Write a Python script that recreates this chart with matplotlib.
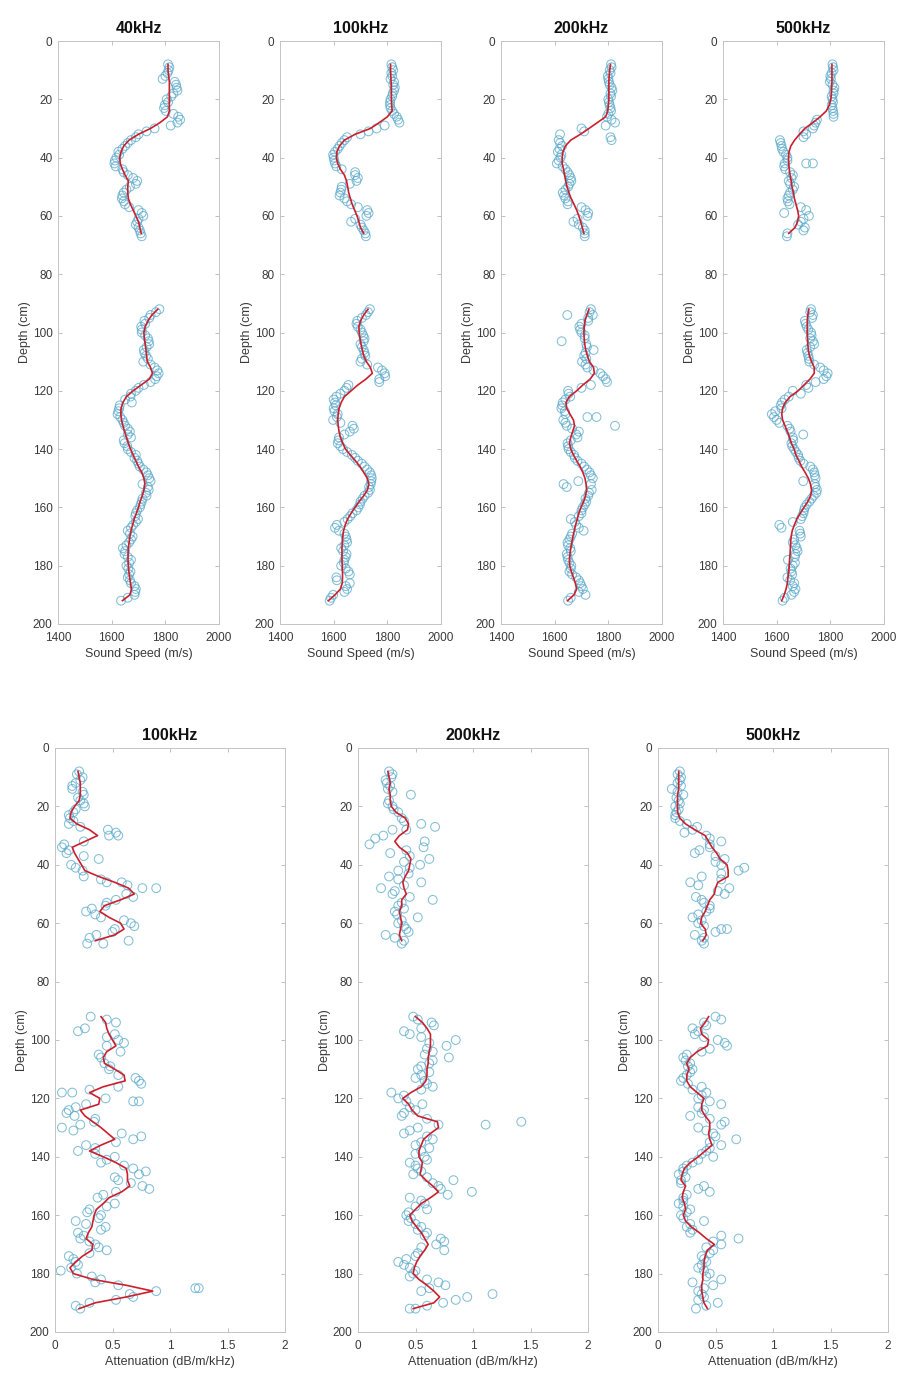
import matplotlib
matplotlib.use("Agg")
import matplotlib.pyplot as plt

plt.rcParams['font.family'] = ['Liberation Sans', 'DejaVu Sans']

# ---------------- depth grids (cm) ----------------
depth_upper = list(range(8, 67, 2))     # 30 samples
depth_lower = list(range(92, 193, 2))   # 51 samples

# ---------------- Sound speed (m/s) ----------------
ss_titles = ['40kHz', '100kHz', '200kHz', '500kHz']

ss40_line_u = [1810, 1810, 1812, 1815, 1815, 1815, 1815, 1815, 1815, 1808, 1780, 1745, 1700, 1665, 1645,
               1635, 1630, 1632, 1640, 1650, 1662, 1660, 1660, 1662, 1670, 1680, 1690, 1700, 1705, 1710]
ss40_pts_u = [1810, 1812, 1800, 1835, 1842, 1830, 1805, 1798, 1802, 1848, 1845, 1760, 1700, 1672, 1650,
              1625, 1618, 1610, 1640, 1660, 1695, 1668, 1645, 1638, 1650, 1700, 1718, 1695, 1700, 1708]
ss40_line_l = [1772, 1750, 1735, 1725, 1720, 1722, 1725, 1728, 1730, 1733, 1745, 1752, 1740, 1710, 1680,
               1655, 1642, 1635, 1634, 1637, 1642, 1648, 1655, 1662, 1670, 1680, 1690, 1700, 1712, 1720,
               1724, 1720, 1714, 1706, 1700, 1692, 1684, 1678, 1672, 1668, 1665, 1662, 1661, 1661, 1662,
               1664, 1667, 1670, 1674, 1668, 1640]
ss40_pts_l = [1778, 1745, 1722, 1710, 1712, 1735, 1740, 1720, 1728, 1718, 1760, 1775, 1762, 1720, 1690,
              1670, 1675, 1628, 1622, 1640, 1650, 1668, 1672, 1648, 1660, 1690, 1695, 1705, 1730, 1740,
              1715, 1738, 1730, 1712, 1705, 1690, 1698, 1680, 1660, 1678, 1665, 1642, 1648, 1672, 1655,
              1670, 1660, 1672, 1690, 1685, 1635]
ss40_extra_d = [13, 15, 17, 23, 27, 29, 33, 35, 41, 43, 53, 55, 61, 63, 113, 115, 125, 137, 151, 153, 175, 187,
                9, 11, 19, 21, 25, 31, 37, 39, 45, 47, 49, 51, 57, 59, 65, 67,
                93, 95, 97, 99, 101, 103, 105, 107, 109, 111, 117, 119, 121, 123, 127, 129, 131, 133, 135,
                139, 141, 143, 145, 147, 149, 155, 157, 159, 161, 163, 165, 167, 169, 171, 173, 177, 179,
                181, 183, 185, 189, 191]
ss40_extra_v = [1790, 1840, 1845, 1795, 1855, 1820, 1690, 1660, 1612, 1615, 1640, 1645, 1700, 1690,
                1770, 1768, 1630, 1645, 1745, 1735, 1650, 1685,
                1815, 1808, 1822, 1810, 1830, 1730, 1640, 1628, 1645, 1680, 1690, 1655, 1665, 1712, 1705, 1712,
                1765, 1740, 1725, 1712, 1725, 1738, 1730, 1722, 1735, 1745, 1745, 1700, 1672, 1650, 1625,
                1632, 1645, 1660, 1660, 1658, 1672, 1685, 1700, 1718, 1735, 1728, 1715, 1708, 1695, 1688,
                1690, 1672, 1668, 1672, 1655, 1660, 1665, 1662, 1665, 1668, 1688, 1660]

ss100_line_u = [1812, 1812, 1813, 1814, 1815, 1815, 1815, 1816, 1818, 1800, 1770, 1737, 1680, 1640, 1622,
                1612, 1610, 1615, 1625, 1640, 1648, 1652, 1656, 1662, 1669, 1678, 1687, 1694, 1700, 1712]
ss100_pts_u = [1815, 1822, 1818, 1825, 1828, 1820, 1812, 1810, 1818, 1835, 1845, 1760, 1700, 1640, 1622,
               1605, 1600, 1605, 1630, 1680, 1685, 1630, 1625, 1640, 1665, 1725, 1722, 1665, 1705, 1718]
ss100_line_l = [1728, 1712, 1700, 1694, 1695, 1698, 1702, 1707, 1712, 1722, 1737, 1744, 1720, 1690, 1665,
                1640, 1628, 1620, 1617, 1615, 1617, 1620, 1625, 1634, 1644, 1662, 1681, 1698, 1712, 1725,
                1731, 1726, 1712, 1695, 1680, 1665, 1652, 1643, 1637, 1634, 1632, 1631, 1631, 1631, 1632,
                1633, 1633, 1632, 1625, 1605, 1580]
ss100_pts_l = [1735, 1720, 1688, 1690, 1705, 1715, 1700, 1712, 1718, 1700, 1765, 1790, 1770, 1655, 1640,
               1610, 1605, 1600, 1615, 1598, 1670, 1660, 1620, 1615, 1635, 1668, 1690, 1715, 1735, 1742,
               1738, 1735, 1715, 1700, 1692, 1670, 1652, 1612, 1620, 1645, 1650, 1628, 1648, 1640, 1628,
               1655, 1610, 1660, 1650, 1598, 1585]
ss100_extra_d = [27, 29, 31, 39, 45, 47, 53, 59, 113, 115, 117, 123, 133, 167, 185,
                 9, 11, 13, 15, 17, 19, 21, 23, 25, 33, 35, 37, 41, 43, 49, 51, 55, 57, 61, 63, 65, 67,
                 93, 95, 97, 99, 101, 103, 105, 107, 109, 111, 119, 121, 125, 127, 129, 131, 135, 137, 139,
                 141, 143, 145, 147, 149, 151, 153, 155, 157, 159, 161, 163, 165, 169, 171, 173, 175, 177,
                 179, 181, 183, 187, 189, 191]
ss100_extra_v = [1840, 1790, 1730, 1598, 1680, 1690, 1622, 1730, 1780, 1792, 1770, 1600, 1675, 1605, 1612,
                 1818, 1815, 1812, 1822, 1825, 1818, 1810, 1812, 1825, 1650, 1630, 1615, 1602, 1610, 1660,
                 1628, 1650, 1690, 1680, 1700, 1712, 1720,
                 1728, 1705, 1685, 1700, 1710, 1712, 1705, 1715, 1705, 1725, 1648, 1625, 1608, 1603, 1612,
                 1625, 1640, 1618, 1625, 1650, 1680, 1705, 1725, 1740, 1740, 1732, 1728, 1708, 1698, 1685,
                 1662, 1640, 1640, 1648, 1640, 1635, 1645, 1638, 1645, 1660, 1645, 1640, 1590]

ss200_line_u = [1808, 1805, 1803, 1802, 1802, 1802, 1802, 1800, 1798, 1790, 1759, 1728, 1696, 1660, 1640,
                1631, 1628, 1628, 1633, 1637, 1641, 1646, 1653, 1661, 1672, 1682, 1690, 1697, 1703, 1709]
ss200_pts_u = [1810, 1805, 1798, 1802, 1812, 1808, 1800, 1805, 1810, 1795, 1825, 1700, 1620, 1615, 1628,
               1612, 1622, 1608, 1640, 1655, 1662, 1650, 1630, 1640, 1648, 1715, 1722, 1670, 1705, 1712]
ss200_line_l = [1728, 1720, 1713, 1710, 1709, 1710, 1712, 1716, 1722, 1730, 1745, 1748, 1732, 1705, 1682,
                1655, 1642, 1645, 1657, 1670, 1674, 1667, 1660, 1655, 1660, 1670, 1682, 1695, 1705, 1713,
                1717, 1719, 1715, 1708, 1698, 1690, 1684, 1678, 1673, 1668, 1664, 1660, 1657, 1655, 1656,
                1662, 1670, 1677, 1682, 1672, 1648]
ss200_pts_l = [1735, 1742, 1725, 1692, 1700, 1712, 1718, 1745, 1710, 1702, 1722, 1770, 1790, 1735, 1650,
               1658, 1630, 1625, 1640, 1632, 1645, 1690, 1685, 1648, 1652, 1672, 1685, 1710, 1730, 1742,
               1735, 1738, 1725, 1718, 1705, 1700, 1660, 1680, 1708, 1660, 1648, 1658, 1645, 1650, 1662,
               1655, 1680, 1695, 1705, 1715, 1650]
ss200_extra_d = [29, 31, 33, 34, 94, 103, 115, 117, 129, 129, 132, 151, 152, 153,
                 9, 11, 13, 15, 17, 19, 21, 23, 25, 27, 35, 37, 39, 41, 43, 45, 47, 49, 51, 53, 55, 57,
                 59, 61, 63, 65, 67,
                 93, 95, 97, 99, 101, 105, 107, 109, 111, 113, 119, 121, 123, 125, 127, 131, 133, 135,
                 137, 139, 141, 143, 145, 147, 149, 155, 157, 159, 161, 163, 165, 167, 169, 171, 173, 175,
                 177, 179, 181, 183, 185, 187, 189, 191]
ss200_extra_v = [1790, 1710, 1808, 1812, 1647, 1626, 1780, 1795, 1722, 1756, 1825, 1688, 1633, 1645,
                 1812, 1808, 1800, 1805, 1815, 1810, 1802, 1808, 1800, 1812, 1620, 1618, 1625, 1615, 1630,
                 1648, 1660, 1655, 1640, 1635, 1650, 1700, 1725, 1685, 1690, 1712, 1712,
                 1730, 1725, 1700, 1695, 1712, 1720, 1715, 1718, 1715, 1745, 1700, 1652, 1640, 1628, 1638,
                 1640, 1665, 1680, 1660, 1650, 1660, 1675, 1700, 1720, 1735, 1728, 1715, 1712, 1700, 1690,
                 1675, 1690, 1665, 1655, 1650, 1660, 1648, 1655, 1660, 1665, 1690, 1700, 1690, 1660]

ss500_line_u = [1806, 1806, 1806, 1806, 1805, 1804, 1802, 1796, 1785, 1762, 1735, 1705, 1685, 1667, 1653,
                1646, 1644, 1645, 1647, 1650, 1654, 1657, 1662, 1666, 1672, 1678, 1682, 1678, 1668, 1645]
ss500_pts_u = [1808, 1812, 1800, 1798, 1815, 1812, 1808, 1805, 1810, 1812, 1745, 1735, 1710, 1612, 1618,
               1625, 1640, 1630, 1632, 1660, 1645, 1665, 1650, 1640, 1648, 1710, 1720, 1690, 1705, 1640]
ss500_line_l = [1720, 1716, 1714, 1714, 1714, 1715, 1716, 1718, 1722, 1730, 1740, 1740, 1724, 1702, 1680,
                1650, 1632, 1622, 1619, 1622, 1631, 1640, 1648, 1655, 1665, 1672, 1683, 1693, 1706, 1718,
                1726, 1730, 1727, 1716, 1702, 1688, 1675, 1666, 1658, 1654, 1652, 1651, 1650, 1648, 1647,
                1645, 1642, 1640, 1635, 1628, 1619]
ss500_pts_l = [1728, 1735, 1705, 1712, 1728, 1725, 1740, 1712, 1718, 1722, 1762, 1790, 1775, 1710, 1660,
               1645, 1620, 1618, 1582, 1600, 1640, 1652, 1660, 1655, 1665, 1680, 1688, 1725, 1740, 1745,
               1742, 1750, 1738, 1722, 1705, 1700, 1690, 1610, 1685, 1690, 1660, 1675, 1670, 1642, 1660,
               1655, 1640, 1665, 1670, 1655, 1622]
ss500_extra_d = [31, 42, 42, 59, 65, 117, 119, 121, 135, 151, 167,
                 9, 11, 13, 15, 17, 19, 21, 23, 25, 27, 29, 33, 35, 37, 39, 41, 43, 45, 47, 49, 51, 53,
                 55, 57, 61, 63, 67,
                 93, 95, 97, 99, 101, 103, 105, 107, 109, 111, 113, 115, 123, 125, 127, 129, 131, 133,
                 137, 139, 141, 143, 145, 147, 149, 153, 155, 157, 159, 161, 163, 165, 169, 171, 173, 175,
                 177, 179, 181, 183, 185, 187, 189, 191]
ss500_extra_v = [1700, 1710, 1735, 1628, 1700, 1745, 1718, 1690, 1699, 1699, 1618,
                 1810, 1805, 1802, 1808, 1812, 1805, 1810, 1808, 1812, 1750, 1740, 1700, 1615, 1620, 1635,
                 1640, 1628, 1650, 1655, 1650, 1660, 1645, 1642, 1690, 1700, 1680, 1638,
                 1725, 1732, 1708, 1718, 1730, 1735, 1725, 1715, 1720, 1740, 1775, 1785, 1630, 1615, 1595,
                 1590, 1610, 1648, 1662, 1658, 1672, 1682, 1700, 1735, 1742, 1745, 1748, 1730, 1712, 1702,
                 1695, 1660, 1688, 1665, 1670, 1678, 1668, 1668, 1652, 1658, 1650, 1660, 1665, 1630]

# ---------------- Attenuation (dB/m/kHz) ----------------
at_titles = ['100kHz', '200kHz', '500kHz']

at100_line_u = [0.20, 0.21, 0.22, 0.22, 0.22, 0.21, 0.17, 0.14, 0.13, 0.19, 0.30, 0.37, 0.26, 0.15, 0.17,
                0.20, 0.23, 0.26, 0.38, 0.52, 0.64, 0.69, 0.57, 0.43, 0.39, 0.47, 0.57, 0.60, 0.52, 0.35]
at100_pts_u = [0.21, 0.24, 0.18, 0.15, 0.25, 0.22, 0.26, 0.16, 0.13, 0.12, 0.46, 0.55, 0.25, 0.06, 0.10,
               0.38, 0.14, 0.24, 0.25, 0.45, 0.76, 0.62, 0.53, 0.44, 0.27, 0.40, 0.66, 0.52, 0.36, 0.64]
at100_line_l = [0.40, 0.44, 0.45, 0.47, 0.50, 0.53, 0.45, 0.42, 0.43, 0.52, 0.60, 0.61, 0.42, 0.30, 0.39,
                0.38, 0.22, 0.26, 0.33, 0.40, 0.46, 0.52, 0.40, 0.30, 0.42, 0.53, 0.62, 0.63, 0.63, 0.65,
                0.58, 0.47, 0.42, 0.36, 0.34, 0.33, 0.32, 0.29, 0.27, 0.33, 0.32, 0.24, 0.18, 0.13, 0.16,
                0.33, 0.62, 0.85, 0.62, 0.35, 0.21]
at100_pts_l = [0.31, 0.53, 0.26, 0.52, 0.55, 0.45, 0.57, 0.40, 0.43, 0.47, 0.55, 0.73, 0.55, 0.06, 0.44,
               0.27, 0.12, 0.17, 0.34, 0.06, 0.58, 0.68, 0.27, 0.20, 0.52, 0.40, 0.68, 0.73, 0.55, 0.76,
               0.53, 0.37, 0.52, 0.30, 0.40, 0.18, 0.44, 0.20, 0.22, 0.35, 0.45, 0.12, 0.18, 0.14, 0.19,
               0.40, 0.55, 0.88, 0.68, 0.30, 0.22]
at100_extra_d = [9, 11, 13, 15, 17, 19, 21, 23, 25, 27, 29, 30, 33, 35, 37, 41, 45, 46, 47, 48, 51, 53, 55,
                 57, 59, 61, 63, 65, 67, 67,
                 93, 97, 99, 101, 105, 109, 113, 115, 117, 118, 121, 121, 123, 125, 127, 129, 131, 133,
                 135, 137, 139, 141, 143, 145, 147, 149, 151, 153, 157, 159, 161, 163, 165, 167, 169, 171,
                 173, 175, 177, 179, 181, 183, 185, 185, 187, 189, 191]
at100_extra_v = [0.19, 0.22, 0.15, 0.24, 0.20, 0.25, 0.18, 0.12, 0.16, 0.22, 0.53, 0.47, 0.08, 0.12, 0.25,
                 0.18, 0.40, 0.58, 0.63, 0.88, 0.68, 0.45, 0.32, 0.35, 0.60, 0.69, 0.50, 0.30, 0.28, 0.42,
                 0.45, 0.20, 0.45, 0.60, 0.38, 0.48, 0.70, 0.75, 0.30, 0.15, 0.68, 0.73, 0.18, 0.10, 0.35,
                 0.22, 0.16, 0.75, 0.53, 0.35, 0.35, 0.45, 0.60, 0.79, 0.52, 0.66, 0.82, 0.42, 0.45, 0.28,
                 0.38, 0.27, 0.40, 0.25, 0.30, 0.38, 0.30, 0.16, 0.20, 0.05, 0.32, 0.35, 1.22, 1.25, 0.65,
                 0.53, 0.18]

at200_line_u = [0.26, 0.27, 0.28, 0.27, 0.28, 0.28, 0.29, 0.33, 0.41, 0.44, 0.43, 0.36, 0.32, 0.36, 0.43,
                0.46, 0.45, 0.44, 0.41, 0.39, 0.40, 0.42, 0.38, 0.38, 0.36, 0.37, 0.38, 0.37, 0.36, 0.38]
at200_pts_u = [0.27, 0.29, 0.25, 0.26, 0.46, 0.27, 0.30, 0.35, 0.38, 0.55, 0.30, 0.22, 0.58, 0.57, 0.28,
               0.62, 0.54, 0.35, 0.27, 0.55, 0.20, 0.30, 0.65, 0.35, 0.32, 0.52, 0.35, 0.42, 0.24, 0.40]
at200_line_l = [0.50, 0.56, 0.60, 0.63, 0.63, 0.63, 0.62, 0.61, 0.61, 0.60, 0.60, 0.59, 0.55, 0.46, 0.39,
                0.44, 0.47, 0.52, 0.69, 0.70, 0.63, 0.57, 0.55, 0.53, 0.53, 0.56, 0.55, 0.54, 0.59, 0.65,
                0.70, 0.63, 0.55, 0.50, 0.45, 0.47, 0.51, 0.55, 0.58, 0.61, 0.58, 0.54, 0.51, 0.49, 0.48,
                0.53, 0.60, 0.66, 0.71, 0.66, 0.48]
at200_pts_l = [0.48, 0.64, 0.55, 0.45, 0.85, 0.77, 0.65, 0.79, 0.62, 0.52, 0.55, 0.58, 0.65, 0.29, 0.35,
               0.56, 0.50, 0.38, 1.42, 0.52, 0.40, 0.65, 0.50, 0.55, 0.58, 0.45, 0.52, 0.48, 0.83, 0.70,
               0.99, 0.45, 0.58, 0.60, 0.42, 0.44, 0.55, 0.60, 0.72, 0.68, 0.75, 0.50, 0.35, 0.45, 0.48,
               0.60, 0.76, 0.55, 0.95, 0.74, 0.45]
at200_extra_d = [9, 11, 13, 15, 19, 21, 25, 27, 28, 31, 33, 35, 37, 39, 41, 43, 45, 47, 49, 51, 53, 55, 57,
                 59, 61, 63, 65, 67,
                 93, 95, 97, 99, 101, 103, 105, 107, 109, 111, 113, 115, 117, 119, 121, 123, 125, 127,
                 129, 129, 131, 133, 135, 137, 139, 141, 143, 145, 147, 149, 151, 153, 155, 157, 159, 161,
                 163, 165, 167, 169, 171, 173, 175, 177, 179, 181, 183, 185, 187, 189, 191, 192]
at200_extra_v = [0.30, 0.24, 0.28, 0.30, 0.26, 0.31, 0.40, 0.67, 0.42, 0.15, 0.10, 0.42, 0.45, 0.40, 0.45,
                 0.44, 0.35, 0.40, 0.32, 0.45, 0.38, 0.40, 0.34, 0.38, 0.40, 0.44, 0.32, 0.38,
                 0.52, 0.66, 0.40, 0.55, 0.62, 0.60, 0.58, 0.65, 0.55, 0.62, 0.50, 0.60, 0.55, 0.40, 0.42,
                 0.45, 0.40, 0.60, 1.11, 0.70, 0.45, 0.60, 0.55, 0.62, 0.50, 0.60, 0.50, 0.55, 0.60, 0.65,
                 0.72, 0.78, 0.55, 0.50, 0.44, 0.46, 0.50, 0.52, 0.58, 0.75, 0.55, 0.52, 0.42, 0.40, 0.50,
                 0.45, 0.70, 0.62, 1.17, 0.85, 0.60, 0.50]

at500_line_u = [0.18, 0.18, 0.18, 0.18, 0.17, 0.17, 0.17, 0.17, 0.19, 0.24, 0.32, 0.41, 0.44, 0.47, 0.51,
                0.54, 0.60, 0.61, 0.61, 0.52, 0.50, 0.49, 0.45, 0.43, 0.41, 0.38, 0.37, 0.41, 0.42, 0.39]
at500_pts_u = [0.19, 0.20, 0.17, 0.12, 0.22, 0.18, 0.15, 0.16, 0.15, 0.25, 0.30, 0.42, 0.55, 0.45, 0.32,
               0.58, 0.55, 0.70, 0.38, 0.28, 0.62, 0.58, 0.38, 0.45, 0.42, 0.30, 0.35, 0.60, 0.32, 0.38]
at500_line_l = [0.44, 0.41, 0.37, 0.38, 0.44, 0.43, 0.34, 0.28, 0.25, 0.27, 0.25, 0.25, 0.28, 0.34, 0.40,
                0.38, 0.38, 0.41, 0.45, 0.45, 0.44, 0.45, 0.47, 0.41, 0.35, 0.28, 0.23, 0.21, 0.20, 0.24,
                0.22, 0.21, 0.23, 0.24, 0.22, 0.24, 0.29, 0.36, 0.42, 0.49, 0.43, 0.41, 0.40, 0.40, 0.39,
                0.39, 0.38, 0.38, 0.39, 0.40, 0.43]
at500_pts_l = [0.50, 0.40, 0.30, 0.32, 0.52, 0.60, 0.38, 0.22, 0.28, 0.30, 0.25, 0.20, 0.38, 0.42, 0.35,
               0.55, 0.40, 0.28, 0.58, 0.35, 0.48, 0.68, 0.55, 0.42, 0.48, 0.30, 0.22, 0.18, 0.20, 0.40,
               0.45, 0.22, 0.18, 0.28, 0.20, 0.40, 0.25, 0.28, 0.70, 0.55, 0.48, 0.38, 0.42, 0.35, 0.45,
               0.55, 0.48, 0.35, 0.40, 0.52, 0.33]
at500_extra_d = [9, 11, 13, 15, 17, 19, 21, 23, 25, 27, 29, 31, 33, 35, 37, 39, 41, 43, 45, 47, 49, 51, 53,
                 55, 57, 59, 61, 62, 63, 65, 67,
                 93, 95, 97, 99, 101, 103, 105, 107, 109, 111, 113, 115, 117, 119, 121, 123, 125, 127,
                 129, 131, 133, 135, 137, 139, 141, 143, 145, 147, 149, 151, 153, 155, 157, 159, 161, 163,
                 165, 167, 169, 171, 173, 175, 177, 179, 181, 183, 185, 187, 189, 191]
at500_extra_v = [0.17, 0.19, 0.20, 0.17, 0.16, 0.19, 0.18, 0.15, 0.19, 0.34, 0.23, 0.45, 0.45, 0.36, 0.50,
                 0.50, 0.75, 0.55, 0.55, 0.35, 0.52, 0.33, 0.40, 0.45, 0.35, 0.38, 0.40, 0.55, 0.50, 0.40,
                 0.40,
                 0.55, 0.42, 0.35, 0.40, 0.58, 0.45, 0.25, 0.24, 0.26, 0.28, 0.22, 0.26, 0.30, 0.38, 0.45,
                 0.35, 0.38, 0.45, 0.55, 0.42, 0.50, 0.45, 0.45, 0.38, 0.35, 0.25, 0.22, 0.24, 0.20, 0.35,
                 0.25, 0.22, 0.22, 0.25, 0.22, 0.28, 0.30, 0.55, 0.48, 0.42, 0.45, 0.40, 0.38, 0.40, 0.42,
                 0.30, 0.40, 0.38, 0.35, 0.42]

ss_sets = [
    (ss40_line_u, ss40_pts_u, ss40_line_l, ss40_pts_l, ss40_extra_d, ss40_extra_v),
    (ss100_line_u, ss100_pts_u, ss100_line_l, ss100_pts_l, ss100_extra_d, ss100_extra_v),
    (ss200_line_u, ss200_pts_u, ss200_line_l, ss200_pts_l, ss200_extra_d, ss200_extra_v),
    (ss500_line_u, ss500_pts_u, ss500_line_l, ss500_pts_l, ss500_extra_d, ss500_extra_v),
]
at_sets = [
    (at100_line_u, at100_pts_u, at100_line_l, at100_pts_l, at100_extra_d, at100_extra_v),
    (at200_line_u, at200_pts_u, at200_line_l, at200_pts_l, at200_extra_d, at200_extra_v),
    (at500_line_u, at500_pts_u, at500_line_l, at500_pts_l, at500_extra_d, at500_extra_v),
]

ss_ticks = [1400, 1600, 1800, 2000]
ss_ticklabels = ['1400', '1600', '1800', '2000']
at_ticks = [0, 0.5, 1, 1.5, 2]
at_ticklabels = ['0', '0.5', '1', '1.5', '2']
depth_ticks = list(range(0, 201, 20))

# ---------------- style ----------------
W, H = 922, 1396
fig = plt.figure(figsize=(W / 100, H / 100), dpi=100)
fig.patch.set_facecolor('white')

PT_COLOR = '#5aa9ca'
LINE_COLOR = '#cc1f2d'
TXT = '#3a3a3a'


def draw_panel(ax, data, xlim, ticks, ticklabels, xlabel, title):
    lu, pu, ll, pl, ed, ev = data
    for xs, ys in ((pu, depth_upper), (pl, depth_lower), (ev, ed)):
        ax.scatter(xs, ys, s=40, facecolors='none', edgecolors=PT_COLOR,
                   linewidths=0.75, alpha=0.75, zorder=2)
    ax.plot(lu, depth_upper, color=LINE_COLOR, lw=1.2, zorder=3)
    ax.plot(ll, depth_lower, color=LINE_COLOR, lw=1.2, zorder=3)
    ax.set_xlim(*xlim)
    ax.set_ylim(200, 0)
    ax.set_xticks(ticks)
    ax.set_xticklabels(ticklabels)
    ax.set_yticks(depth_ticks)
    ax.tick_params(direction='in', top=True, right=True, length=3, width=0.6,
                   color='#b5b5b5', labelcolor=TXT, labelsize=8.5)
    ax.tick_params(axis='x', pad=6)
    ax.tick_params(axis='y', pad=4)
    for s in ax.spines.values():
        s.set_color('#c4c4c4')
        s.set_linewidth(0.7)
    ax.set_xlabel(xlabel, fontsize=9, color=TXT, labelpad=3)
    ax.set_ylabel('Depth (cm)', fontsize=9, color=TXT, labelpad=1)
    ax.set_title(title, fontsize=11.5, fontweight='bold', color='#111111', pad=6)


top_lefts = [58, 280, 501, 723]
top_w = 161
top_y0, top_y1 = 41, 624
for i, left in enumerate(top_lefts):
    ax = fig.add_axes([left / W, 1 - top_y1 / H, top_w / W, (top_y1 - top_y0) / H])
    draw_panel(ax, ss_sets[i], (1400, 2000), ss_ticks, ss_ticklabels,
               'Sound Speed (m/s)', ss_titles[i])

bot_lefts = [55, 358, 658]
bot_w = 230
bot_y0, bot_y1 = 748, 1332
for i, left in enumerate(bot_lefts):
    ax = fig.add_axes([left / W, 1 - bot_y1 / H, bot_w / W, (bot_y1 - bot_y0) / H])
    draw_panel(ax, at_sets[i], (0, 2), at_ticks, at_ticklabels,
               'Attenuation (dB/m/kHz)', at_titles[i])

fig.savefig('out.png', dpi=100, facecolor='white')
